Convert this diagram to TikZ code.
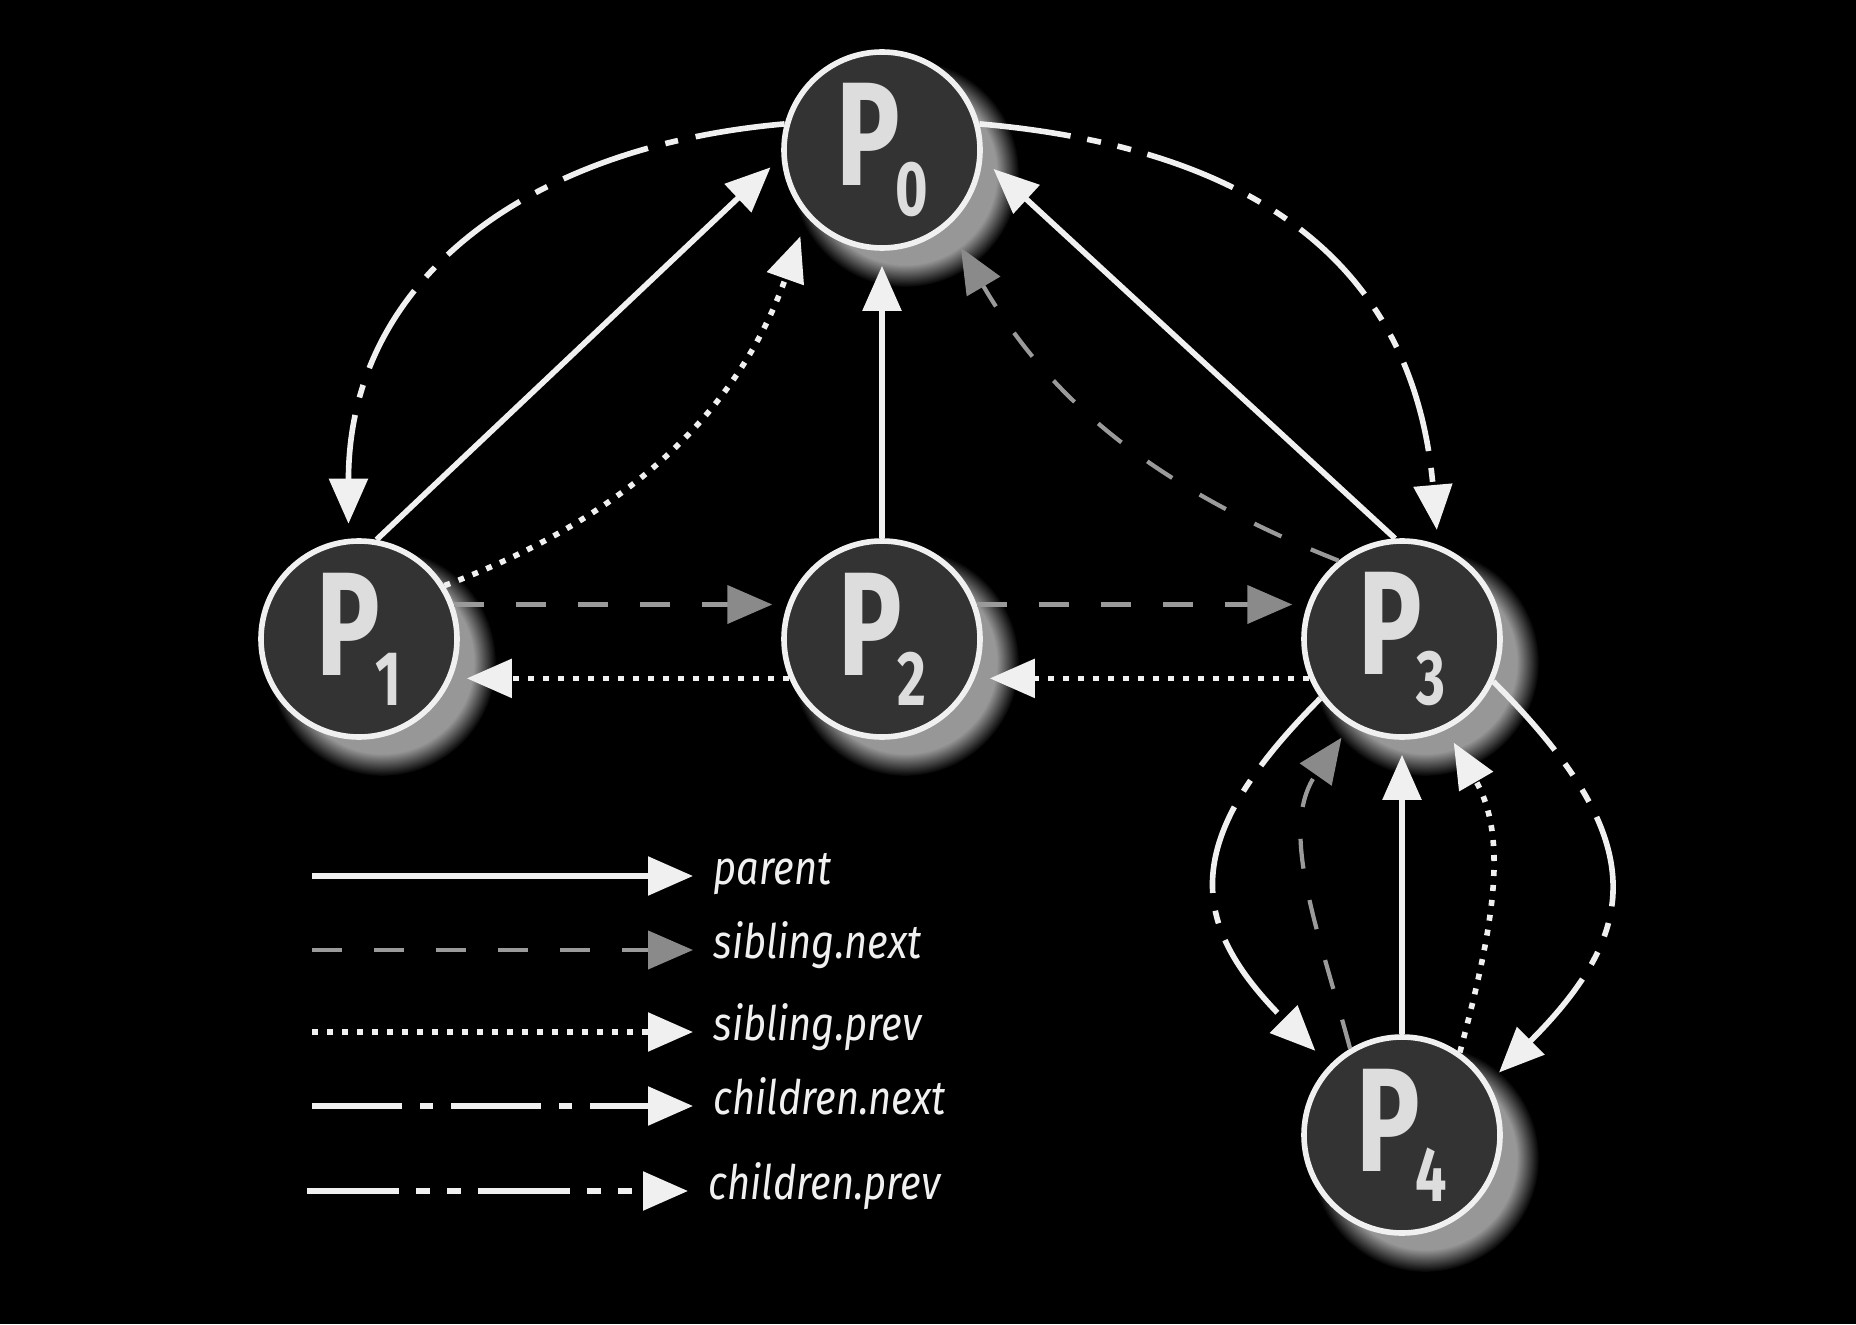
\documentclass[tikz,border=0pt]{standalone}
\usepackage{fontspec}
\usetikzlibrary{arrows.meta,shadows,fadings}
\newfontfamily\nodefont{Fira Sans}[FakeStretch=0.72]
\newfontfamily\legendfont{Fira Sans}[FakeStretch=0.84]
\definecolor{nodefill}{HTML}{333333}
\definecolor{linewhite}{HTML}{F0F0F0}
\definecolor{labelgray}{HTML}{DDDDDD}
\definecolor{sibgray}{HTML}{9A9A9A}
\definecolor{sibtip}{HTML}{8A8A8A}
\newcommand{\procname}[1]{P\kern-0.05cm\raisebox{-0.3cm}{\fontsize{22pt}{22pt}\selectfont #1}}

\begin{document}
\begin{tikzpicture}[
  proc/.style={circle, draw=linewhite, line width=1.6pt, fill=nodefill,
    minimum size=1.96cm, inner sep=0pt, text=labelgray,
    font=\nodefont\bfseries\fontsize{42pt}{42pt}\selectfont,
    circular drop shadow={shadow xshift=0.2cm, shadow yshift=-0.2cm,
      shadow scale=1.16, fill=white!70!black, opacity=0.85,
      path fading={circle with fuzzy edge 20 percent}}},
  tip/.style={-{Triangle[length=0.45cm,width=0.38cm,#1]}, shorten >=0.15cm},
  parentlink/.style={draw=linewhite, line width=1.6pt, tip={color=linewhite}},
  sibnext/.style={draw=sibgray, line width=1.2pt, dash pattern=on 0.3cm off 0.32cm,
    tip={color=sibtip}},
  sibprev/.style={draw=linewhite, line width=1.6pt, dash pattern=on 0.06cm off 0.09cm,
    tip={color=linewhite}},
  childnext/.style={draw=linewhite, line width=1.6pt,
    dash pattern=on 0.9cm off 0.18cm on 0.13cm off 0.18cm, tip={color=linewhite}},
  childprev/.style={draw=linewhite, line width=1.6pt,
    dash pattern=on 0.92cm off 0.17cm on 0.14cm off 0.17cm on 0.14cm off 0.17cm,
    tip={color=linewhite}},
  legendtext/.style={anchor=west, inner xsep=0.2cm, text=linewhite,
    text height=0.75em, text depth=0.25em,
    font=\legendfont\itshape\fontsize{13.5pt}{15pt}\selectfont}
]
  \fill[black] (0,0) rectangle (18.56,13.24);
  % the five processes
  \node[proc] (P0) at (8.82,11.74) {\procname{0}};
  \node[proc] (P1) at (3.59,6.85)  {\procname{1}};
  \node[proc] (P2) at (8.82,6.85)  {\procname{2}};
  \node[proc] (P3) at (14.02,6.85) {\procname{3}};
  \node[proc] (P4) at (14.02,1.89) {\procname{4}};
  % parent
  \draw[parentlink] (P1.80) -- (P0.184);
  \draw[parentlink] (P2.north) -- (P0.south);
  \draw[parentlink] (P3.94) -- (P0.-5);
  \draw[parentlink] (P4.north) -- (P3.south);
  % sibling.next
  \draw[sibnext] (P1.20) -- (P2.160);
  \draw[sibnext] (P2.20) -- (P3.160);
  \draw[sibnext,shorten >=0.25cm] (P3.129) to[bend left=19] (P0.311);
  \draw[sibnext] (P4.121) to[out=105,in=235] (P3.239);
  % sibling.prev
  \draw[sibprev] (P2.203) -- (P1.-23);
  \draw[sibprev] (P3.203) -- (P2.-23);
  \draw[sibprev,shorten >=0.2cm] (P1.32) to[bend right=25] (P0.222);
  \draw[sibprev] (P4.55) to[out=75,in=300] (P3.296);
  % children.next
  \draw[childnext] (P0.165) to[out=185,in=90,looseness=1.1] (P1.96);
  \draw[childnext,shorten >=0.2cm] (P3.216) to[out=225,in=135,looseness=1.4] (P4.136);
  % children.prev
  \draw[childprev] (P0.15) to[out=-5,in=95,looseness=1.15] (P3.69);
  \draw[childprev] (P3.-25) to[out=-45,in=45,looseness=1.4] (P4.31);
  % legend
  \coordinate (Lparent) at (3.12,4.48);
  \coordinate (Lsibnext) at (3.12,3.74);
  \coordinate (Lsibprev) at (3.12,2.92);
  \coordinate (Lchildnext) at (3.12,2.18);
  \coordinate (Lchildprev) at (3.07,1.33);
  \node[legendtext] (Tparent)    at (6.93,4.48) {parent};
  \node[legendtext] (Tsibnext)   at (6.93,3.74) {sibling.next};
  \node[legendtext] (Tsibprev)   at (6.93,2.92) {sibling.prev};
  \node[legendtext] (Tchildnext) at (6.93,2.18) {children.next};
  \node[legendtext] (Tchildprev) at (6.88,1.33) {children.prev};
  \draw[parentlink,shorten >=0pt] (Lparent) -- (Tparent.west);
  \draw[sibnext,shorten >=0pt] (Lsibnext) -- (Tsibnext.west);
  \draw[sibprev,shorten >=0pt] (Lsibprev) -- (Tsibprev.west);
  \draw[childnext,shorten >=0pt] (Lchildnext) -- (Tchildnext.west);
  \draw[childprev,shorten >=0pt] (Lchildprev) -- (Tchildprev.west);
\end{tikzpicture}
\end{document}
